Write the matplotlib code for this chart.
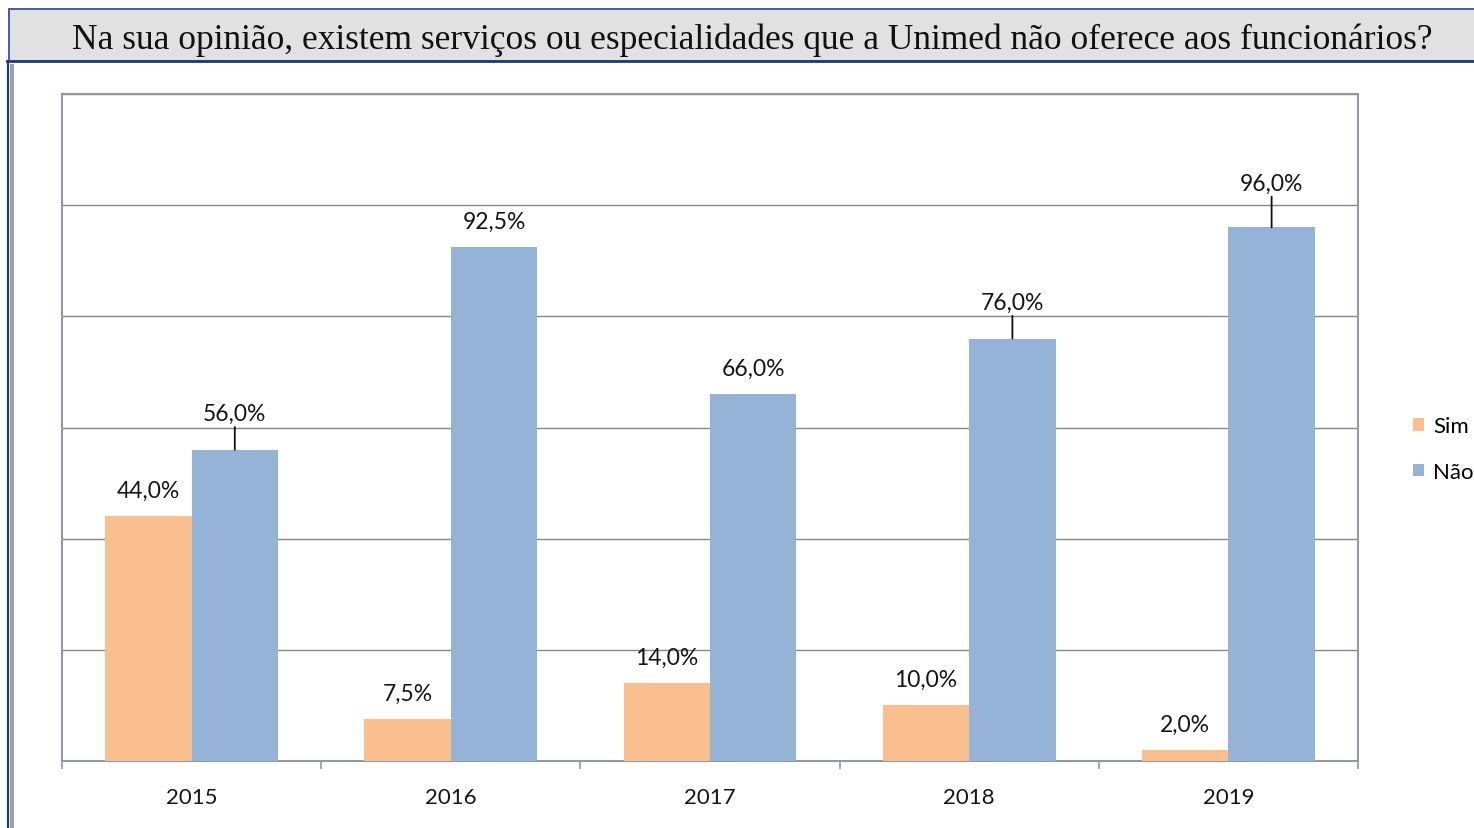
import matplotlib
matplotlib.use("Agg")
import matplotlib.pyplot as plt
from matplotlib.patches import Rectangle
from matplotlib.lines import Line2D
import numpy as np

# Survey answers per year (percent)
years = ["2015", "2016", "2017", "2018", "2019"]
sim = [44.0, 7.5, 14.0, 10.0, 2.0]
nao = [56.0, 92.5, 66.0, 76.0, 96.0]
series_names = ["Sim", "Não"]
title = "Na sua opinião, existem serviços ou especialidades que a Unimed não oferece aos funcionários?"

# label placement (pixels above bar top) and which labels get a leader line
sim_offsets = [26, 26, 26, 26, 26]
nao_offsets = [36, 26, 26, 36, 44]
nao_leaders = [True, False, False, True, True]

SIM_COLOR = "#F9BF8F"
NAO_COLOR = "#95B3D7"
FONT = "Lato"
TXT = "#151515"

W, H = 1474, 829
fig = plt.figure(figsize=(W / 100, H / 100), dpi=100)
fig.patch.set_facecolor("white")


def fx(px):
    return px / W


def fy(py):
    return 1 - py / H


# Title box
fig.patches.append(Rectangle((fx(9), fy(62)), fx(1480) - fx(9), fy(10) - fy(62),
                             transform=fig.transFigure, facecolor="#E1E1E1",
                             edgecolor="#4A58A8", lw=1.4, zorder=0))
fig.text(fx(752), fy(40), title, ha="center", va="center",
         family="Liberation Serif", fontsize=25.5, color="#111111")

# Frame lines of the chart container
fig.add_artist(Line2D([fx(7), fx(1480)], [fy(62), fy(62)], transform=fig.transFigure,
                      color="#1F3C78", lw=2.0))
fig.add_artist(Line2D([fx(7.5), fx(7.5)], [fy(62), fy(835)], transform=fig.transFigure,
                      color="#1F3C78", lw=1.6))
for xx in (10.5, 13):
    fig.add_artist(Line2D([fx(xx), fx(xx)], [fy(66), fy(835)], transform=fig.transFigure,
                          color="#A0A0A0", lw=1.5))

# Plot area
ax = fig.add_axes([fx(62), fy(762), fx(1358) - fx(62), fy(95) - fy(762)])
x = np.arange(len(years))
bw = 1 / 3
bars_sim = ax.bar(x - bw / 2, sim, bw, color=SIM_COLOR, zorder=3, label=series_names[0])
bars_nao = ax.bar(x + bw / 2, nao, bw, color=NAO_COLOR, zorder=3, label=series_names[1])

ax.set_xlim(-0.5, len(years) - 0.5)
ax.set_ylim(0, 120)
ax.set_yticks(np.arange(0, 121, 20))
ax.yaxis.grid(True, color="#868686", lw=1.0, zorder=1)
ax.tick_params(axis="y", left=False, labelleft=False)

ax.set_xticks(x)
ax.set_xticklabels(years, family=FONT, fontsize=16, color=TXT)
ax.tick_params(axis="x", which="major", length=0, pad=19)
ax.set_xticks(np.arange(-0.5, len(years), 1.0), minor=True)
ax.tick_params(axis="x", which="minor", length=6, width=1.2, color="#8E9AA6", direction="out")

for s in ax.spines.values():
    s.set_color("#8E9AA6")
    s.set_linewidth(1.5)


def fmt(v):
    return f"{v:.1f}".replace(".", ",") + "%"


for xi, v, off in zip(x - bw / 2, sim, sim_offsets):
    ax.annotate(fmt(v), xy=(xi, v), xytext=(0, off), textcoords="offset pixels",
                ha="center", va="center", family=FONT, fontsize=16.5, color=TXT, zorder=5)

for xi, v, off, lead in zip(x + bw / 2, nao, nao_offsets, nao_leaders):
    props = dict(arrowstyle="-", color="#111111", lw=1.3, shrinkA=0, shrinkB=0,
                 relpos=(0.5, 0.0)) if lead else None
    ax.annotate(fmt(v), xy=(xi, v), xytext=(0, off), textcoords="offset pixels",
                ha="center", va="center", family=FONT, fontsize=16.5, color=TXT,
                arrowprops=props, zorder=5)

fig.legend(handles=[bars_sim, bars_nao], labels=series_names, loc="center left",
           bbox_to_anchor=(fx(1413), fy(450)), frameon=False, prop=dict(family=FONT, size=16),
           handlelength=0.5, handleheight=0.5, handletextpad=0.4, labelspacing=1.15,
           borderpad=0, borderaxespad=0)

fig.savefig("out.png", dpi=100)
